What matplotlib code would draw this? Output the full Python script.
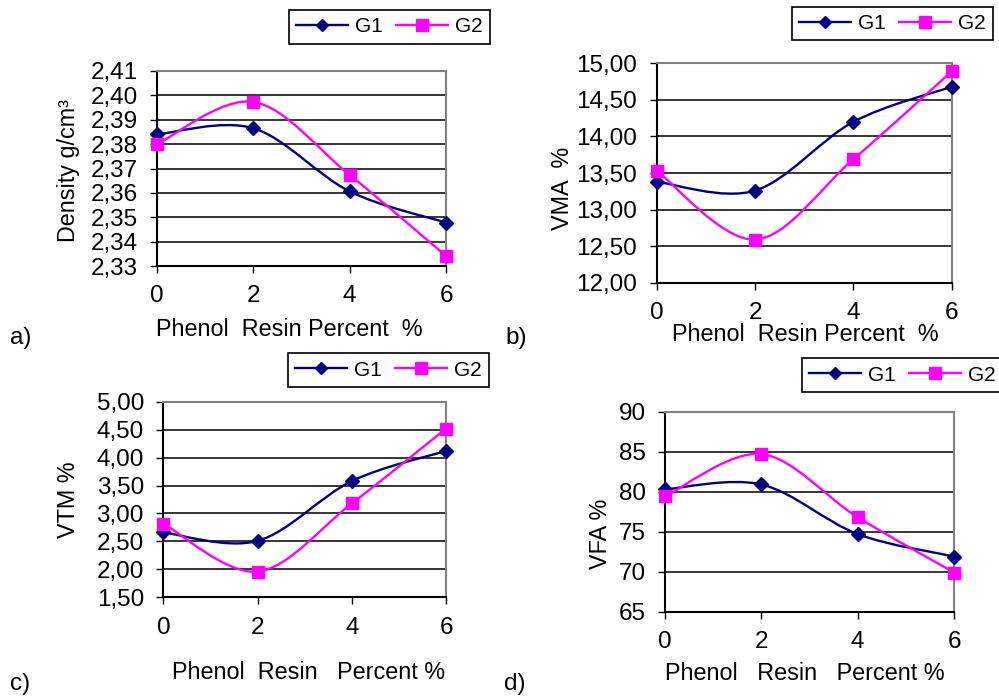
import numpy as np
import matplotlib
matplotlib.use("Agg")
import matplotlib.pyplot as plt
from matplotlib.path import Path
from matplotlib.patches import PathPatch
from matplotlib.lines import Line2D
from matplotlib.ticker import FixedLocator, FuncFormatter

plt.rcParams["font.family"] = ["Liberation Sans", "DejaVu Sans"]

# data
resin = [0, 2, 4, 6]
density_g1 = [2.384, 2.3865, 2.3606, 2.3478]
density_g2 = [2.380, 2.3973, 2.3673, 2.3341]
vma_g1 = [13.38, 13.26, 14.20, 14.68]
vma_g2 = [13.53, 12.59, 13.69, 14.89]
vtm_g1 = [2.66, 2.51, 3.58, 4.12]
vtm_g2 = [2.82, 1.96, 3.18, 4.52]
vfa_g1 = [80.3, 80.9, 74.7, 71.9]
vfa_g2 = [79.4, 84.7, 76.8, 69.9]

NAVY = "#000080"
MAGENTA = "#FF00FF"
TICK_FS = 17.5
LABEL_FS = 16.8


def smooth_path(x, y):
    """Excel-like smoothed line: cubic Bezier segments (Catmull-Rom)."""
    pts = np.column_stack([x, y]).astype(float)
    ext = np.vstack([pts[0], pts, pts[-1]])
    verts = [pts[0]]
    codes = [Path.MOVETO]
    for i in range(len(pts) - 1):
        p0, p1, p2, p3 = ext[i], ext[i + 1], ext[i + 2], ext[i + 3]
        verts += [p1 + (p2 - p0) / 6, p2 - (p3 - p1) / 6, p2]
        codes += [Path.CURVE4] * 3
    return Path(verts, codes)


def comma_fmt(decimals):
    return FuncFormatter(lambda v, pos: f"{v:.{decimals}f}".replace(".", ","))


panels = [
    dict(rect=[0.1572, 0.6178, 0.2893, 0.2802], g1=density_g1, g2=density_g2,
         ylim=(2.33, 2.41), step=0.01, dec=2,
         ylabel="Density g/cm³", ylab_xy=(-0.305, 0.492),
         xlabel="Phenol  Resin Percent  %", xlab_xy=(0.458, -0.328),
         leg=(0.2893, 0.9856), letter="a)", letter_xy=(0.021, 0.514)),
    dict(rect=[0.6574, 0.5938, 0.2953, 0.3152], g1=vma_g1, g2=vma_g2,
         ylim=(12.0, 15.0), step=0.5, dec=2,
         ylabel="VMA  %", ylab_xy=(-0.319, 0.432),
         xlabel="Phenol  Resin Percent  %", xlab_xy=(0.502, -0.236),
         leg=(0.7925, 0.9904), letter="b)", letter_xy=(0.5165, 0.514)),
    dict(rect=[0.1635, 0.1418, 0.2830, 0.2810], g1=vtm_g1, g2=vtm_g2,
         ylim=(1.5, 5.0), step=0.5, dec=2,
         ylabel="VTM %", ylab_xy=(-0.334, 0.497),
         xlabel="Phenol  Resin   Percent %", xlab_xy=(0.512, -0.387),
         leg=(0.2883, 0.4924), letter="c)", letter_xy=(0.020, 0.0172)),
    dict(rect=[0.6657, 0.1211, 0.2893, 0.2874], g1=vfa_g1, g2=vfa_g2,
         ylim=(65, 90), step=5, dec=0,
         ylabel="VFA %", ylab_xy=(-0.225, 0.389),
         xlabel="Phenol   Resin   Percent %", xlab_xy=(0.483, -0.31),
         leg=(0.8025, 0.4852), letter="d)", letter_xy=(0.515, 0.0172)),
]

fig = plt.figure(figsize=(9.99, 6.96), dpi=100)

for p in panels:
    ax = fig.add_axes(p["rect"])
    ax.set_xlim(resin[0], resin[-1])
    ax.set_ylim(*p["ylim"])
    ax.set_axisbelow(True)

    for vals, color, marker, ms in [(p["g1"], NAVY, "D", 7.0),
                                    (p["g2"], MAGENTA, "s", 9.0)]:
        ax.add_patch(PathPatch(smooth_path(resin, vals), fill=False,
                               edgecolor=color, lw=1.7, zorder=2))
        ax.plot(resin, vals, linestyle="none", marker=marker, ms=ms,
                color=color, mec=color, clip_on=False, zorder=4)

    yt = np.arange(p["ylim"][0], p["ylim"][1] + p["step"] / 2, p["step"])
    ax.yaxis.set_major_locator(FixedLocator(yt))
    ax.yaxis.set_major_formatter(comma_fmt(p["dec"]))
    ax.set_xticks(resin)
    ax.yaxis.grid(True, color="black", lw=1.1)
    ax.tick_params(axis="both", direction="out", length=5, width=1.0,
                   pad=9, labelsize=TICK_FS, colors="black")

    ax.spines["left"].set_color("black")
    ax.spines["bottom"].set_color("black")
    ax.spines["top"].set_color("#808080")
    ax.spines["right"].set_color("#808080")
    for s in ax.spines.values():
        s.set_linewidth(1.5)

    ax.text(*p["xlab_xy"], p["xlabel"], transform=ax.transAxes,
            ha="center", va="center", fontsize=LABEL_FS)
    ax.text(*p["ylab_xy"], p["ylabel"], transform=ax.transAxes,
            ha="center", va="center", rotation=90, fontsize=LABEL_FS)

    handles = [
        Line2D([], [], color=NAVY, lw=1.7, marker="D", ms=6.5, mec=NAVY),
        Line2D([], [], color=MAGENTA, lw=1.7, marker="s", ms=8.5, mec=MAGENTA),
    ]
    leg = ax.legend(handles, ["G1", "G2"], loc="upper left",
                    bbox_to_anchor=p["leg"], bbox_transform=fig.transFigure,
                    ncol=2, fontsize=15, frameon=True, fancybox=False,
                    borderaxespad=0, borderpad=0.35, handlelength=2.5,
                    handletextpad=0.34, columnspacing=0.62)
    leg.get_frame().set_edgecolor("black")
    leg.get_frame().set_linewidth(1.2)
    leg.get_frame().set_alpha(1)

    fig.text(*p["letter_xy"], p["letter"], ha="center", va="center",
             fontsize=TICK_FS)

fig.savefig("out.png", dpi=100)
